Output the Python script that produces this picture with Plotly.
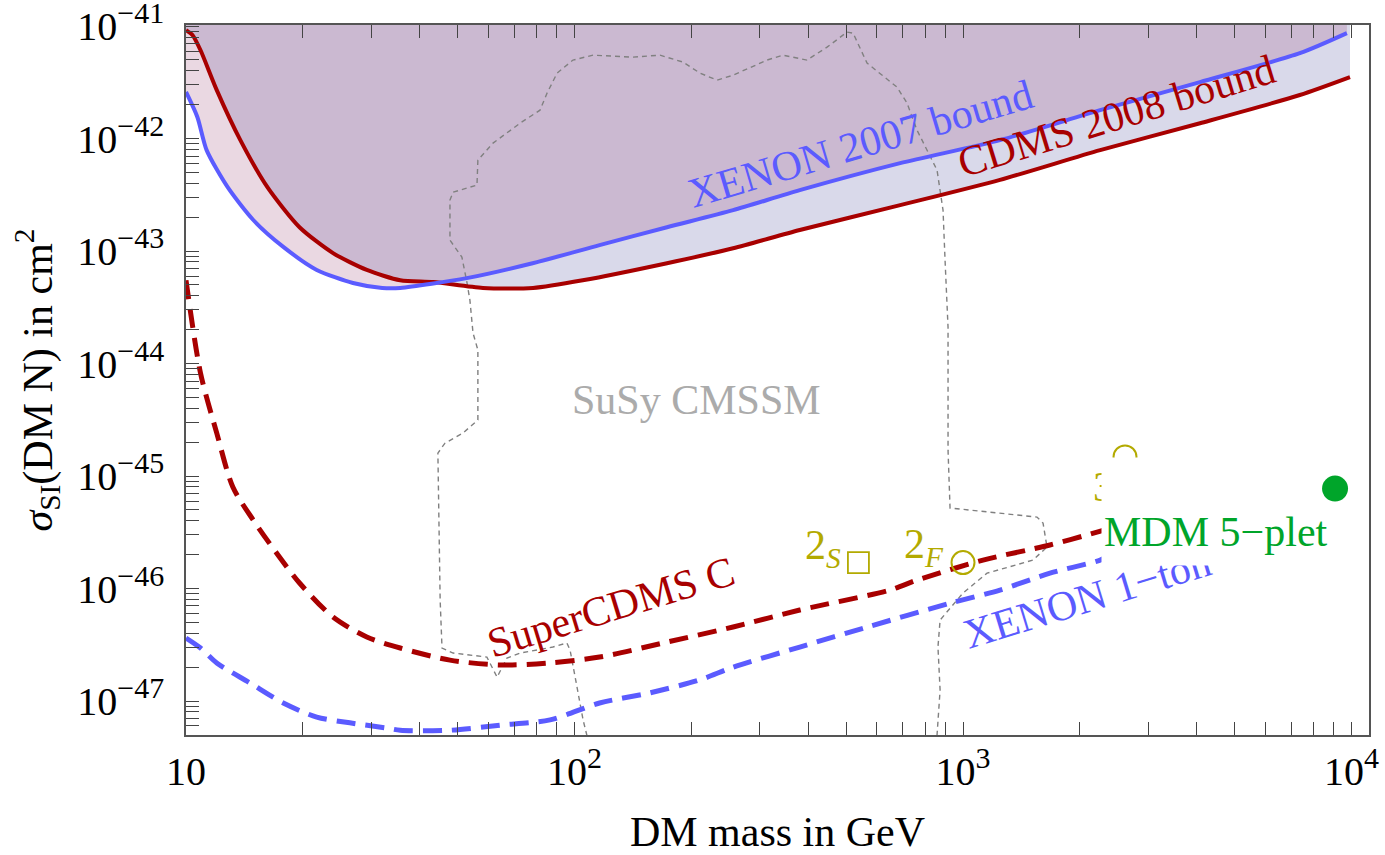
import plotly.graph_objects as go

# ---------------- data (mass in GeV, cross section in cm^2) ----------------
xenon07_mass = [10, 10.7, 11.3, 12.8, 14.9, 17.8, 21.7, 26.9, 32, 35.6, 52.8, 78, 116,
                173, 256, 380, 689, 1245, 2254, 4074, 7362, 9730]
xenon07_sigma = [2.6e-42, 1.55e-42, 7.9e-43, 3.7e-43, 1.89e-43, 1.09e-43, 6.8e-44, 5.2e-44,
                 4.7e-44, 4.7e-44, 5.75e-44, 7.8e-44, 1.13e-43, 1.63e-43, 2.31e-43, 3.48e-43,
                 6.05e-43, 9.7e-43, 1.79e-42, 3.18e-42, 5.75e-42, 8.67e-42]

cdms08_mass = [10, 10.4, 10.9, 12.0, 13.8, 16.2, 19.6, 23.9, 29.2, 35.6, 43.3, 58.1, 78.2,
               105, 173, 256, 380, 689, 1245, 2254, 4074, 7362, 9910]
cdms08_sigma = [9.2e-42, 8.3e-42, 6.1e-42, 2.7e-42, 9.7e-43, 3.7e-43, 1.63e-43, 9.6e-44,
                6.8e-44, 5.5e-44, 5.3e-44, 4.7e-44, 4.7e-44, 5.5e-44, 7.8e-44, 1.06e-43,
                1.54e-43, 2.56e-43, 4.3e-43, 7.9e-43, 1.37e-42, 2.44e-42, 3.52e-42]

supercdms_mass = [10, 10.9, 12.0, 13.2, 14.9, 17.1, 19.6, 23.9, 29.2, 35.6, 47.8, 64.3, 86.5,
                  116, 173, 256, 380, 648, 762, 1126, 1674, 2213, 2350]
supercdms_sigma = [5.5e-44, 8.2e-45, 2.41e-45, 7.98e-46, 4.06e-46, 2.07e-46, 1.12e-46,
                   5.58e-47, 3.71e-47, 2.96e-47, 2.31e-47, 2.09e-47, 2.18e-47, 2.46e-47,
                   3.34e-47, 4.55e-47, 6.44e-47, 9.7e-47, 1.19e-46, 1.79e-46, 2.44e-46,
                   3.18e-46, 3.4e-46]

xenon1t_mass = [10, 10.9, 12.0, 14.6, 17.8, 21.7, 26.4, 32.9, 35.6, 47.8, 64.3, 86.5, 116,
                156, 210, 256, 380, 567, 924, 1245, 1674, 2254, 2400]
xenon1t_sigma = [3.63e-47, 2.96e-47, 2.18e-47, 1.45e-47, 9.6e-48, 7.2e-48, 6.4e-48, 5.75e-48,
                 5.5e-48, 5.5e-48, 6.1e-48, 6.8e-48, 9.6e-48, 1.18e-47, 1.54e-47, 2.0e-47,
                 3.02e-47, 4.55e-47, 7.4e-47, 9.7e-47, 1.37e-46, 1.79e-46, 2.0e-46]

susy_mass = [107.7, 105.2, 101.5, 97.4, 95.6, 88.0, 72.4, 67.0, 63.2, 59.5, 48.7, 45.6, 45.1,
             44.8, 44.5, 46.4, 51.6, 56.4, 56.4, 54.8, 53.8, 52.9, 51.3, 47.8, 47.8, 48.7,
             56.1, 56.4, 61.7, 72.4, 81.5, 85.0, 90.2, 99.1, 111.6, 141.5, 166.0, 190.3,
             210.4, 232.8, 255.9, 313.0, 344.1, 396.7, 446.7, 502.9, 521.2, 566.2, 676.2,
             717.5, 761.3, 857.3, 888.3, 899.0, 915.1, 915.1, 926.0, 1550, 1607, 1645, 1514,
             1153, 1000, 873, 862, 873, 857]
susy_sigma = [4.9e-48, 6.8e-48, 1.33e-47, 2.84e-47, 3.28e-47, 3.02e-47, 2.67e-47, 2.41e-47,
              1.63e-47, 2.46e-47, 2.67e-47, 2.96e-47, 7.9e-47, 4.06e-46, 1.60e-45, 1.96e-45,
              2.41e-45, 3.15e-45, 1.32e-44, 1.87e-44, 3.66e-44, 5.2e-44, 8.85e-44, 1.25e-43,
              2.84e-43, 3.34e-43, 3.86e-43, 6.44e-43, 9.12e-43, 1.37e-42, 1.79e-42, 2.54e-42,
              3.82e-42, 4.99e-42, 5.52e-42, 5.30e-42, 5.52e-42, 4.79e-42, 3.82e-42, 3.31e-42,
              3.66e-42, 4.99e-42, 5.52e-42, 4.99e-42, 6.50e-42, 8.85e-42, 8.67e-42, 4.69e-42,
              2.87e-42, 2.07e-42, 1.19e-42, 5.25e-43, 2.31e-43, 8.32e-44, 2.11e-44, 1.70e-45,
              5.2e-46, 4.32e-46, 3.82e-46, 2.34e-46, 1.79e-46, 1.37e-46, 9.12e-47, 5.25e-47,
              3.02e-47, 1.25e-47, 4.9e-48]

# candidate points
doublet_s = {"mass": [538], "sigma": [1.70e-46]}
doublet_f = {"mass": [1000], "sigma": [1.70e-46]}
triplet = {"mass": [2612], "sigma": [1.48e-45]}
mdm5 = {"mass": [9070], "sigma": [7.74e-46]}

SUP = '<sup><span style="font-size:30px">%s</span></sup>'

# ticks
x_tickvals = [k * 10 ** e for e in (1, 2, 3) for k in range(1, 10)] + [10000]
x_major = {10: "10", 100: "10" + SUP % "2", 1000: "10" + SUP % "3", 10000: "10" + SUP % "4"}
x_ticktext = [x_major.get(v, "") for v in x_tickvals]
y_exps = [-48, -47, -46, -45, -44, -43, -42]
y_tickvals = []
y_ticktext = []
for e in y_exps:
    for k in range(1, 10):
        v = k * 10.0 ** e
        if 5.0e-48 <= v <= 1.0001e-41:
            y_tickvals.append(v)
            y_ticktext.append("10" + SUP % ("\u2212%d" % (-e)) if k == 1 else "")
y_tickvals.append(1e-41)
y_ticktext.append("10" + SUP % "\u221241")

TOP = 1e-40
FONT = "Liberation Serif, Times New Roman, serif"
RED = "#a80000"
BLUE = "#5b5bff"
OLIVE = "#b3aa00"
GREEN = "#00a52a"
FS = 42
TICKFS = 40

fig = go.Figure()

# excluded regions (fills)
fig.add_trace(go.Scatter(x=cdms08_mass + [cdms08_mass[-1], cdms08_mass[0]],
                         y=cdms08_sigma + [TOP, TOP], fill="toself",
                         fillcolor="rgba(65,65,150,0.2)", line=dict(width=0),
                         mode="lines", hoverinfo="skip"))
fig.add_trace(go.Scatter(x=xenon07_mass + [xenon07_mass[-1], xenon07_mass[0]],
                         y=xenon07_sigma + [TOP, TOP], fill="toself",
                         fillcolor="rgba(150,60,110,0.2)", line=dict(width=0),
                         mode="lines", hoverinfo="skip"))

# SuSy CMSSM contour
fig.add_trace(go.Scatter(x=susy_mass, y=susy_sigma, mode="lines",
                         line=dict(color="#808080", width=1.4, dash="5px,4px")))

# bounds
fig.add_trace(go.Scatter(x=cdms08_mass, y=cdms08_sigma, mode="lines",
                         line=dict(color=RED, width=4, shape="spline", smoothing=0.7)))
fig.add_trace(go.Scatter(x=xenon07_mass, y=xenon07_sigma, mode="lines",
                         line=dict(color=BLUE, width=4, shape="spline", smoothing=0.7)))

# projected sensitivities
fig.add_trace(go.Scatter(x=supercdms_mass, y=supercdms_sigma, mode="lines",
                         line=dict(color=RED, width=5, dash="19px,10px",
                                   shape="spline", smoothing=0.8)))
fig.add_trace(go.Scatter(x=xenon1t_mass, y=xenon1t_sigma, mode="lines",
                         line=dict(color=BLUE, width=5, dash="19px,10px",
                                   shape="spline", smoothing=0.8)))

# candidate points
fig.add_trace(go.Scatter(x=doublet_s["mass"], y=doublet_s["sigma"], mode="markers",
                         marker=dict(symbol="square-open", size=21, color=OLIVE,
                                     line=dict(width=1.8, color=OLIVE))))
fig.add_trace(go.Scatter(x=doublet_f["mass"] + triplet["mass"],
                         y=doublet_f["sigma"] + triplet["sigma"], mode="markers",
                         marker=dict(symbol="circle-open", size=23, color=OLIVE,
                                     line=dict(width=2, color=OLIVE))))
fig.add_trace(go.Scatter(x=mdm5["mass"], y=mdm5["sigma"], mode="markers",
                         marker=dict(symbol="circle", size=26, color=GREEN)))

def ann(text, lx, ly, color, angle=0, **kw):
    d = dict(text=text, x=lx, y=ly, xref="x", yref="y", showarrow=False,
             textangle=angle, font=dict(family=FONT, size=FS, color=color),
             xanchor="center", yanchor="middle")
    d.update(kw)
    return d

annotations = [
    ann("XENON 2007 bound", 2.735, -42.05, BLUE, -16.5),
    ann("CDMS 2008 bound", 3.395, -41.80, RED, -17),
    ann("SuSy CMSSM", 2.315, -44.32, "#ababab"),
    ann("SuperCDMS C", 2.095, -46.16, RED, -17),
    ann("XENON 1\u2212ton", 3.320, -46.08, BLUE, -17),
    ann("2<sub><i>S</i></sub>", 2.640, -45.64, OLIVE),
    ann("2<sub><i>F</i></sub>", 2.900, -45.63, OLIVE),
    ann("3<sub><i>F</i></sub>", 3.385, -45.12, OLIVE),
    # white label background of the MDM tag
    ann(" ", 3.632, -45.316, GREEN, 0, width=213, height=107,
        bgcolor="white", borderpad=0),
    ann("MDM 5\u2212plet", 3.358, -45.50, GREEN, 0, xanchor="left"),
]

fig.update_layout(
    width=1385, height=855,
    margin=dict(l=186, r=16, t=25, b=120),
    paper_bgcolor="white", plot_bgcolor="white",
    showlegend=False,
    font=dict(family=FONT, size=FS, color="black"),
    annotations=annotations,
    xaxis=dict(type="log", range=[1, 4.045], tickmode="array", tickvals=x_tickvals,
               ticktext=x_ticktext, ticks="inside", ticklen=13, tickwidth=1,
               tickcolor="#444", showline=True, linecolor="#555", linewidth=1.5,
               mirror="ticks", showgrid=False, zeroline=False, ticklabeloverflow="allow",
               automargin=False,
               tickfont=dict(family=FONT, size=TICKFS, color="black"),
               title=dict(text="DM mass in GeV", font=dict(family=FONT, size=FS),
                          standoff=26)),
    yaxis=dict(type="log", range=[-47.302, -40.99], tickmode="array", tickvals=y_tickvals,
               ticktext=y_ticktext, ticks="inside", ticklen=13, tickwidth=1,
               tickcolor="#444", showline=True, linecolor="#555", linewidth=1.5,
               mirror=True, showgrid=False, zeroline=False, ticklabelstandoff=12,
               ticklabeloverflow="allow", automargin=False,
               tickfont=dict(family=FONT, size=TICKFS, color="black"),
               title=dict(text="<i>\u03c3</i><sub>SI</sub>(DM N) in cm<sup>2</sup>",
                          font=dict(family=FONT, size=FS), standoff=12)),
)

fig.write_html("out.html")
